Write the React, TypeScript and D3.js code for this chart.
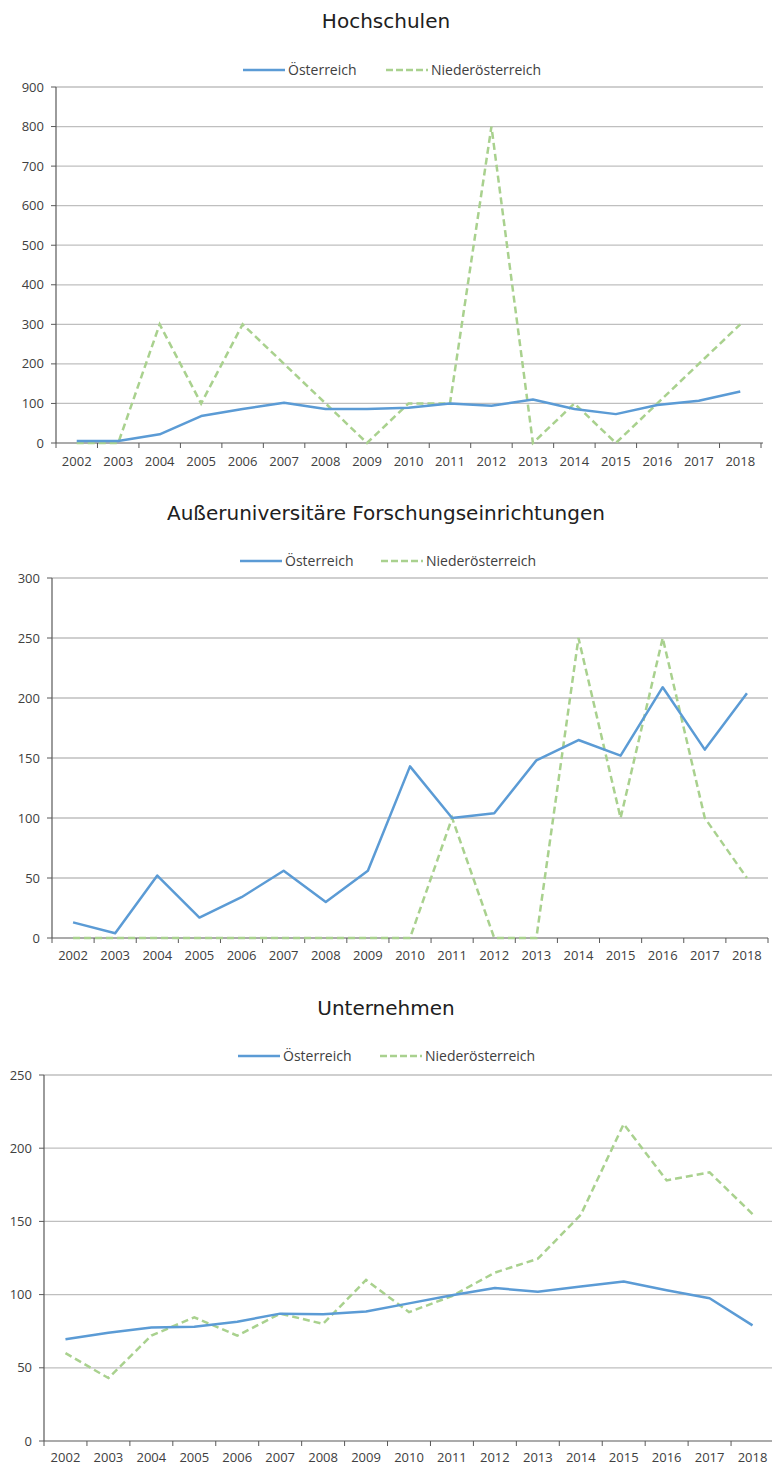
import React from "react";
import * as d3 from "d3";

const years = ["2002","2003","2004","2005","2006","2007","2008","2009","2010","2011","2012","2013","2014","2015","2016","2017","2018"];
const seriesNames = ["Österreich", "Niederösterreich"];

const titles = ["Hochschulen", "Außeruniversitäre Forschungseinrichtungen", "Unternehmen"];

const hochAT = [5, 5, 22, 68, 86, 102, 86, 86, 89, 100, 94, 110, 86, 73, 96, 107, 130];
const hochNOE = [0, 0, 300, 100, 300, 200, 100, 0, 100, 100, 800, 0, 100, 0, 100, 200, 300];

const ausAT = [13, 4, 52, 17, 34, 56, 30, 56, 143, 100, 104, 148, 165, 152, 209, 157, 204];
const ausNOE = [0, 0, 0, 0, 0, 0, 0, 0, 0, 100, 0, 0, 250, 100, 250, 100, 50];

const untAT = [69.5, 74, 77.5, 78, 81.5, 87, 86.5, 88.5, 94, 99.5, 104.5, 102, 105.5, 109, 103, 97.5, 79];
const untNOE = [60, 43, 72, 84.5, 72, 87, 80, 110, 88, 99, 115, 124.5, 154.5, 216.5, 178, 183.5, 155];

const yTicks1 = [0, 100, 200, 300, 400, 500, 600, 700, 800, 900];
const yTicks2 = [0, 50, 100, 150, 200, 250, 300];
const yTicks3 = [0, 50, 100, 150, 200, 250];

const BLUE = "#5B9BD5";
const GREEN = "#A9D18E";
const TEXT = "#404040";
const FONT = "'Open Sans', 'DejaVu Sans', sans-serif";
const TITLE_FONT = "'DejaVu Sans', sans-serif";

type ChartProps = {
  title: string;
  at: number[];
  noe: number[];
  ticks: number[];
  titleY: number;
  legendY: number;
  legendX: number;
  legendX2: number;
  left: number;
  right: number;
  top: number;
  bottom: number;
  gridRight: number;
  labelDy: number;
};

function Chart(p: ChartProps) {
  const x = d3.scaleBand<string>().domain(years).range([p.left, p.right]).padding(0);
  const yMax = p.ticks[p.ticks.length - 1];
  const y = d3.scaleLinear().domain([0, yMax]).range([p.bottom, p.top]);
  const cx = (i: number) => (x(years[i]) as number) + x.bandwidth() / 2;
  const line = d3.line<number>().x((_, i) => cx(i)).y((d) => y(d));
  const boundaries = years.map((yr) => x(yr) as number).concat([p.right]);
  return (
    <g>
      <text x={386} y={p.titleY} textAnchor="middle" fontSize={20} fill="#202020" fontFamily={TITLE_FONT}>{p.title}</text>
      {/* legend */}
      <line x1={p.legendX} x2={p.legendX + 42} y1={p.legendY} y2={p.legendY} stroke={BLUE} strokeWidth={2.5} />
      <text x={p.legendX + 45} y={p.legendY + 5} fontSize={14} fill={TEXT} fontFamily={FONT}>{seriesNames[0]}</text>
      <line x1={p.legendX2} x2={p.legendX2 + 42} y1={p.legendY} y2={p.legendY} stroke={GREEN} strokeWidth={2.5} strokeDasharray="7,3" />
      <text x={p.legendX2 + 45} y={p.legendY + 5} fontSize={14} fill={TEXT} fontFamily={FONT}>{seriesNames[1]}</text>
      {/* grid */}
      {p.ticks.map((t) => (
        <g key={t}>
          {t !== 0 && <line x1={p.left} x2={p.gridRight} y1={y(t)} y2={y(t)} stroke="#BFBFBF" strokeWidth={1.3} />}
          <line x1={p.left - 5} x2={p.left} y1={y(t)} y2={y(t)} stroke="#595959" strokeWidth={1} />
          <text x={p.left - 12} y={y(t) + 4.5} textAnchor="end" fontSize={13} fill={TEXT} fontFamily={FONT}>{t}</text>
        </g>
      ))}
      {/* axes */}
      <line x1={p.left} x2={p.left} y1={p.top} y2={p.bottom} stroke="#595959" strokeWidth={1.2} />
      <line x1={p.left} x2={p.gridRight} y1={p.bottom} y2={p.bottom} stroke="#595959" strokeWidth={1.2} />
      {boundaries.map((b, i) => (
        <line key={i} x1={b} x2={b} y1={p.bottom} y2={p.bottom + 5} stroke="#595959" strokeWidth={1} />
      ))}
      {years.map((yr, i) => (
        <text key={yr} x={cx(i)} y={p.bottom + p.labelDy} textAnchor="middle" fontSize={13} fill={TEXT} fontFamily={FONT}>{yr}</text>
      ))}
      <path d={line(p.noe) || ""} fill="none" stroke={GREEN} strokeWidth={2.5} strokeDasharray="7,4" />
      <path d={line(p.at) || ""} fill="none" stroke={BLUE} strokeWidth={2.5} strokeLinejoin="round" />
    </g>
  );
}

export default function App() {
  return (
    <svg width={772} height={1467} style={{ position: "absolute", left: 0, top: 0, background: "#fff" }}>
      <rect x={0} y={0} width={772} height={1467} fill="#fff" />
      <Chart title={titles[0]} at={hochAT} noe={hochNOE} ticks={yTicks1} titleY={28} legendY={70} legendX={243} legendX2={386}
        left={56} right={761} top={87} bottom={443} gridRight={763} labelDy={23} />
      <Chart title={titles[1]} at={ausAT} noe={ausNOE} ticks={yTicks2} titleY={520} legendY={561} legendX={240} legendX2={381}
        left={52} right={768} top={578} bottom={938} gridRight={768} labelDy={22} />
      <Chart title={titles[2]} at={untAT} noe={untNOE} ticks={yTicks3} titleY={1015} legendY={1056} legendX={238} legendX2={380}
        left={44} right={774} top={1075} bottom={1441} gridRight={774} labelDy={21} />
    </svg>
  );
}
